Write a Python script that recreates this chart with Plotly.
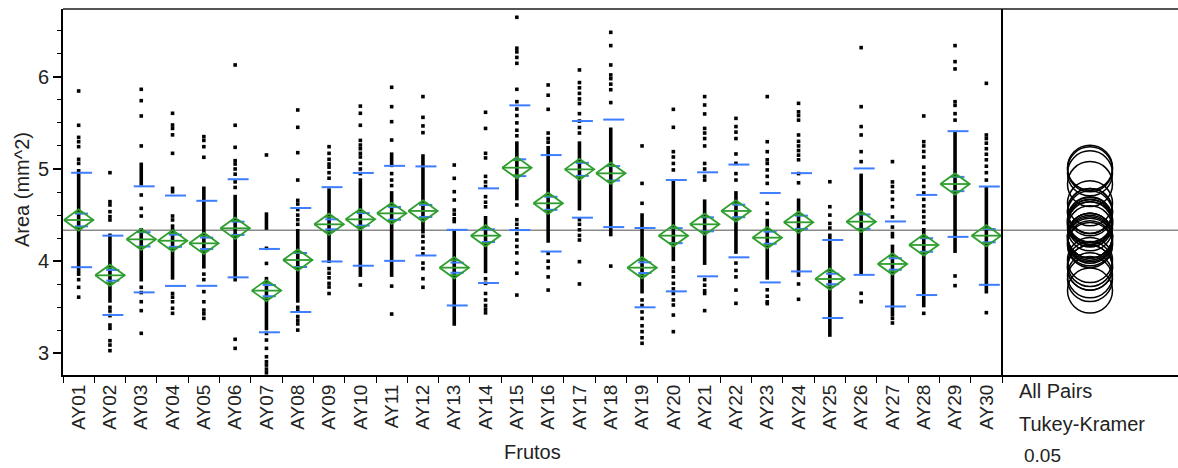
import math
import plotly.graph_objects as go

# Fruit labels (x categories)
frutos = [f"AY{i:02d}" for i in range(1, 31)]

# Group means of fruit area (mm^2) and standard deviations
means = [4.447, 3.847, 4.237, 4.222, 4.194, 4.357, 3.681, 4.013, 4.400, 4.454,
         4.519, 4.545, 3.930, 4.277, 5.014, 4.628, 4.996, 4.953, 3.930, 4.277,
         4.400, 4.545, 4.255, 4.422, 3.807, 4.429, 3.970, 4.176, 4.837, 4.277]
std_devs = [0.512, 0.430, 0.575, 0.490, 0.461, 0.532, 0.452, 0.564, 0.403, 0.503,
            0.515, 0.483, 0.410, 0.513, 0.676, 0.523, 0.524, 0.583, 0.430, 0.604,
            0.564, 0.503, 0.485, 0.533, 0.423, 0.577, 0.461, 0.543, 0.573, 0.533]

grand_mean = 4.336
ci95_half = 0.115        # half-height of the means diamonds (pooled 95% CI)
n_per_group = 55         # fruits measured per group (for the mean error bars)

# Individual measurements that stand apart in each column
dots = [
    [5.846, 5.474, 5.343, 5.296, 5.242, 5.105, 5.061, 3.80, 3.717, 3.61],
    [4.96, 4.646, 4.61, 4.537, 4.483, 4.447, 3.50, 3.46, 3.41, 3.308, 3.272, 3.138, 3.091, 3.03],
    [5.864, 5.741, 5.575, 5.25, 4.718, 4.573, 4.49, 3.717, 3.66, 3.561, 3.464, 3.218],
    [5.604, 5.477, 5.44, 5.37, 5.17, 4.79, 4.754, 4.49, 4.447, 3.65, 3.61, 3.56, 3.49, 3.435],
    [5.351, 5.31, 5.242, 5.127, 3.86, 3.80, 3.67, 3.56, 3.47, 3.43, 3.38],
    [6.128, 5.474, 5.235, 5.09, 5.054, 5.0, 4.944, 4.86, 4.80, 3.153, 3.055],
    [5.152, 4.14, 3.976, 3.217, 3.145, 3.055, 2.964, 2.91, 2.874, 2.83, 2.79],
    [5.64, 5.452, 5.177, 4.88, 4.66, 4.62, 4.56, 4.50, 4.45, 4.40, 3.50, 3.46, 3.40, 3.36, 3.32, 3.253],
    [5.242, 5.17, 5.105, 5.054, 5.02, 4.96, 4.90, 3.92, 3.87, 3.82, 3.76, 3.72, 3.65],
    [5.682, 5.604, 5.474, 5.31, 5.26, 5.22, 5.17, 5.13, 5.06, 5.0, 4.95, 3.742],
    [5.886, 5.676, 5.513, 5.314, 4.95, 4.88, 4.82, 3.73, 3.427],
    [5.785, 5.56, 5.467, 5.394, 4.27, 4.21, 4.14, 4.08, 3.98, 3.92, 3.81, 3.717],
    [5.043, 4.899, 4.754, 4.664, 4.555, 4.51, 4.46, 4.43],
    [5.615, 5.44, 5.17, 5.12, 4.92, 4.86, 4.81, 4.70, 4.64, 4.59, 3.81, 3.76, 3.65, 3.58, 3.52, 3.48, 3.44],
    [6.645, 6.31, 6.27, 6.21, 6.146, 5.864, 5.73, 5.65, 5.58, 5.5, 5.42, 5.36, 4.61, 4.45, 4.40,
     4.35, 4.30, 4.23, 4.16, 4.09, 3.98, 3.87, 3.633],
    [5.911, 5.80, 5.647, 5.39, 5.33, 5.29, 4.085, 4.0, 3.93, 3.83, 3.687],
    [6.074, 5.937, 5.88, 5.82, 5.76, 5.71, 5.60, 5.52, 5.45, 5.39, 4.45, 4.40, 4.34, 4.28, 4.23, 3.995, 3.753],
    [6.482, 6.338, 6.128, 6.02, 5.98, 5.92, 5.86, 5.72, 3.947],
    [5.25, 4.844, 4.628, 3.58, 3.52, 3.45, 3.38, 3.30, 3.236, 3.17, 3.11],
    [5.647, 5.452, 5.188, 5.13, 5.06, 4.99, 3.93, 3.89, 3.83, 3.76, 3.70, 3.65, 3.58, 3.525, 3.416, 3.236],
    [5.785, 5.694, 5.597, 5.44, 5.39, 5.33, 5.25, 5.06, 5.0, 4.92, 4.88, 3.80, 3.74, 3.68, 3.65, 3.464],
    [5.549, 5.46, 5.40, 5.33, 5.163, 5.061, 4.95, 4.88, 3.98, 3.90, 3.83, 3.687, 3.543],
    [5.785, 5.296, 5.188, 5.10, 5.06, 4.99, 4.92, 4.844, 4.628, 4.519, 3.69, 3.62, 3.56, 3.54],
    [5.712, 5.62, 5.58, 5.53, 5.369, 5.30, 5.25, 5.20, 5.15, 5.10, 4.95, 4.85, 3.753, 3.587],
    [4.862, 4.591, 4.50, 4.41, 4.36],
    [6.316, 5.676, 5.46, 5.369, 5.188, 5.08, 3.652, 3.561],
    [5.08, 4.86, 4.81, 4.75, 4.67, 4.591, 4.48, 4.37, 4.30, 4.266, 3.38, 3.33],
    [5.575, 5.296, 5.25, 5.19, 5.13, 5.02, 4.95, 4.88, 4.81, 4.74, 4.67, 4.60, 4.54, 4.48, 4.42, 3.435],
    [6.338, 6.164, 6.085, 5.73, 5.69, 5.60, 5.53, 3.84, 3.735],
    [5.929, 5.369, 5.33, 5.28, 5.22, 5.16, 5.10, 5.03, 4.96, 4.88, 3.442],
]

# Stretches where the measurements pile up into a solid column [low, high]
runs = [
    [[3.84, 5.00]], [[3.55, 4.30]], [[4.82, 5.07], [3.78, 4.36]], [[3.80, 4.40]], [[3.92, 4.81]],
    [[3.78, 4.72]], [[4.34, 4.53], [3.25, 3.83]], [[3.55, 4.35]], [[3.98, 4.79]], [[3.83, 4.90]],
    [[5.02, 5.18], [3.83, 4.76]], [[4.30, 5.16]], [[3.30, 4.34]], [[3.87, 4.49]], [[4.66, 5.30]],
    [[4.20, 5.25]], [[4.55, 5.30]], [[4.27, 5.45]], [[3.65, 4.52]], [[4.00, 4.87]],
    [[3.96, 4.67]], [[4.08, 4.76]], [[3.80, 4.46]], [[3.83, 4.68]], [[3.18, 4.30]],
    [[3.85, 4.95]], [[3.40, 4.18]], [[3.50, 4.36]], [[4.09, 5.41]], [[3.65, 4.81]],
]

GREEN = "#2f9e2f"
BLUE = "#3d7dff"
FONT = "Liberation Sans, Arial, sans-serif"

fig = go.Figure()

# --- raw measurements ---
dx, dy = [], []
for i, vals in enumerate(dots):
    dx += [i] * len(vals)
    dy += vals
fig.add_trace(go.Scatter(x=dx, y=dy, mode="markers",
                         marker=dict(symbol="square", size=3.6, color="black"),
                         hoverinfo="skip", showlegend=False))

rx, ry = [], []
for i, segs in enumerate(runs):
    for lo, hi in segs:
        rx += [i, i, None]
        ry += [lo, hi, None]
fig.add_trace(go.Scatter(x=rx, y=ry, mode="lines",
                         line=dict(color="black", width=3.6),
                         hoverinfo="skip", showlegend=False))

# --- std dev lines and mean error bars (blue) ---
bx, by = [], []
for i, (m, s) in enumerate(zip(means, std_devs)):
    for v in (m + s, m - s):
        bx += [i - 0.24, i + 0.43, None]
        by += [v, v, None]
    se = s / math.sqrt(n_per_group)
    for v in (m + se, m - se):
        bx += [i - 0.12, i + 0.30, None]
        by += [v, v, None]
fig.add_trace(go.Scatter(x=bx, y=by, mode="lines",
                         line=dict(color=BLUE, width=2),
                         hoverinfo="skip", showlegend=False))

# --- means diamonds with overlap marks (green) ---
gx, gy = [], []
w = 0.47
h = ci95_half
k = 1 / math.sqrt(2)
for i, m in enumerate(means):
    gx += [i - w, i, i + w, i, i - w, None]
    gy += [m, m + h, m, m - h, m, None]
    gx += [i - w, i + w, None]
    gy += [m, m, None]
    ow = w * (1 - k)
    for v in (m + h * k, m - h * k):
        gx += [i - ow, i + ow, None]
        gy += [v, v, None]
fig.add_trace(go.Scatter(x=gx, y=gy, mode="lines",
                         line=dict(color=GREEN, width=1.8),
                         hoverinfo="skip", showlegend=False))

# --- comparison circles (Tukey-Kramer) ---
fig.add_trace(go.Scatter(x=[0] * len(means), y=means, mode="markers", xaxis="x2", yaxis="y",
                         marker=dict(symbol="circle-open", size=45,
                                     line=dict(color="black", width=1.5), color="black"),
                         hoverinfo="skip", showlegend=False))

split = (1002 - 63) / (1178 - 63)

fig.update_layout(
    width=1178, height=468,
    margin=dict(l=63, r=0, t=9, b=93),
    paper_bgcolor="white", plot_bgcolor="white",
    font=dict(family=FONT, size=20, color="#222"),
    xaxis=dict(domain=[0, split], range=[-0.5, 29.5],
               tickmode="array", tickvals=list(range(30)), ticktext=frutos,
               tickangle=-90, ticks="", showgrid=False, zeroline=False,
               showline=True, linecolor="black", linewidth=2,
               tickfont=dict(size=19, color="#222"),
               minor=dict(tickmode="array", tickvals=[i + 0.5 for i in range(-1, 30)],
                          ticks="outside", ticklen=6, tickcolor="black", tickwidth=1,
                          showgrid=False)),
    xaxis2=dict(domain=[split, 1], range=[-1, 1], anchor="y",
                showticklabels=False, ticks="", showgrid=False, zeroline=False,
                showline=True, linecolor="black", linewidth=2),
    yaxis=dict(range=[2.766, 6.735], dtick=1, tick0=0,
               ticks="outside", ticklen=8, tickwidth=1.5, tickcolor="black",
               showgrid=False, zeroline=False,
               showline=True, linecolor="black", linewidth=2,
               tickfont=dict(size=20, color="#222"),
               minor=dict(dtick=0.25, ticks="outside", ticklen=4,
                          tickcolor="black", tickwidth=1, showgrid=False)),
    shapes=[
        dict(type="line", xref="paper", yref="y", x0=0, x1=1, y0=grand_mean, y1=grand_mean,
             line=dict(color="#8a8a8a", width=1.6), layer="below"),
        dict(type="line", xref="paper", yref="paper", x0=0, x1=1, y0=1, y1=1,
             line=dict(color="#555", width=2)),
        dict(type="line", xref="paper", yref="paper", x0=split, x1=split, y0=0, y1=1,
             line=dict(color="black", width=2)),
    ],
    annotations=[
        dict(text="Frutos", xref="paper", yref="paper", x=(532 - 63) / 1115, y=(375 - 452) / 366,
             showarrow=False, xanchor="center", yanchor="middle", font=dict(size=20)),
        dict(text="Area (mm^2)", xref="paper", yref="paper", x=(22 - 63) / 1115, y=(375 - 190) / 366,
             showarrow=False, textangle=-90, xanchor="center", yanchor="middle", font=dict(size=20)),
        dict(text="All Pairs", xref="paper", yref="paper", x=(1017 - 63) / 1115, y=(375 - 391) / 366,
             showarrow=False, xanchor="left", yanchor="middle", font=dict(size=20)),
        dict(text="Tukey-Kramer", xref="paper", yref="paper", x=(1017 - 63) / 1115, y=(375 - 424) / 366,
             showarrow=False, xanchor="left", yanchor="middle", font=dict(size=20)),
        dict(text="0.05", xref="paper", yref="paper", x=(1022 - 63) / 1115, y=(375 - 456) / 366,
             showarrow=False, xanchor="left", yanchor="middle", font=dict(size=19)),
    ],
)

fig.write_html("out.html")
